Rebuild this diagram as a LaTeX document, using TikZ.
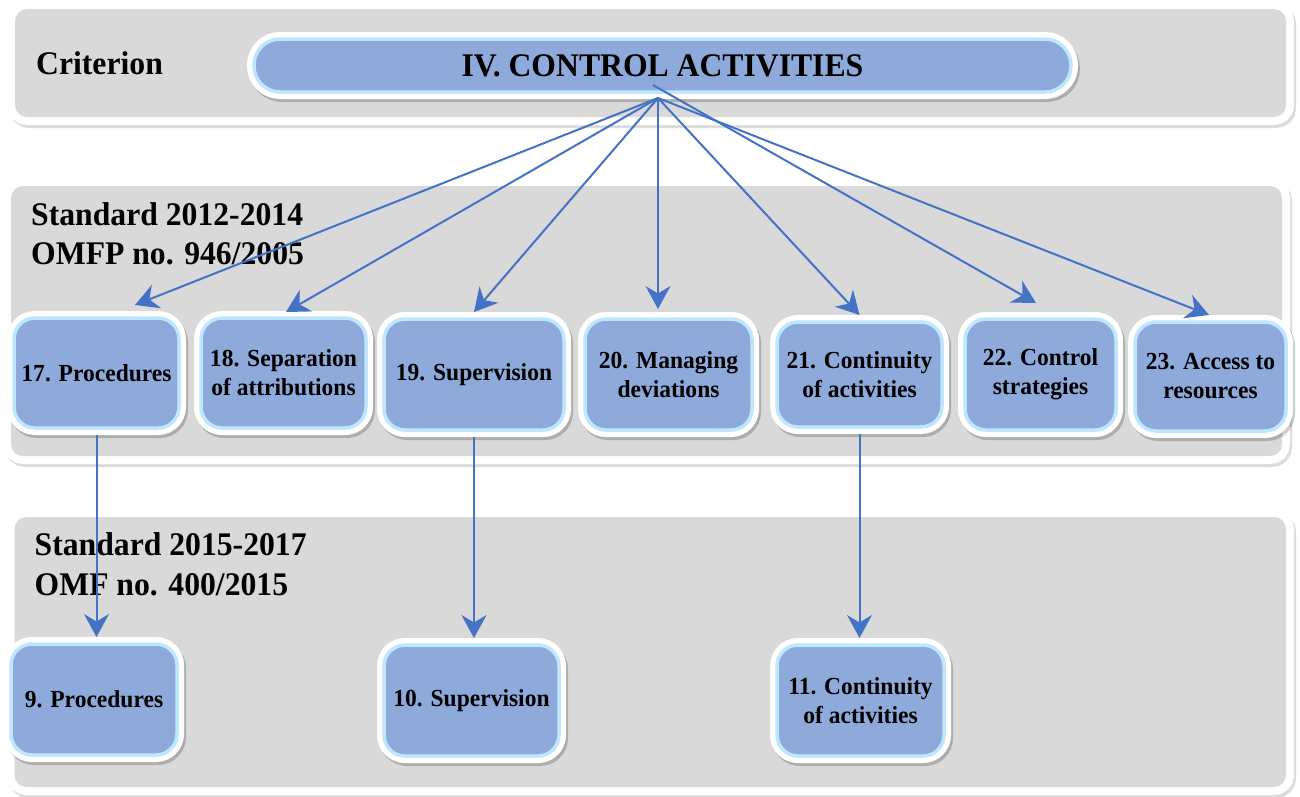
\documentclass[tikz,border=0pt]{standalone}
\usepackage{fontspec}
\setmainfont{Liberation Serif}[FakeStretch=0.96]
\usetikzlibrary{arrows.meta,shadows,calc}
\definecolor{panelgray}{HTML}{D9D9D9}
\definecolor{boxblue}{HTML}{8EAADB}
\definecolor{glow}{HTML}{BFE6FF}
\definecolor{arrowblue}{HTML}{4472C4}
\tikzset{
  panel/.style={fill=panelgray, rounded corners=12pt,
    drop shadow={fill=none, draw=black, line width=16pt, opacity=0.14, shadow xshift=2pt, shadow yshift=-3pt},
    preaction={draw=white, line width=16pt}},
  box/.style={rounded corners=21pt, fill=boxblue, draw=glow, line width=3.5pt,
    outer sep=7pt, inner sep=0pt, align=center,
    font=\fontsize{24.5}{29}\selectfont\bfseries,
    drop shadow={fill=none, draw=black, line width=14pt, opacity=0.2, shadow xshift=2pt, shadow yshift=-3pt},
    preaction={draw=white, line width=14pt}},
  topbox/.style={box, rounded corners=26pt, font=\fontsize{33}{38}\selectfont\bfseries},
  lbl/.style={anchor=base west, inner sep=0pt, font=\fontsize{33}{38}\selectfont\bfseries},
  arr/.style={draw=arrowblue, line width=2pt, -{Stealth[length=23pt,width=25pt,inset=7.5pt]}}
}
\begin{document}
\begin{tikzpicture}[x=1pt,y=-1pt]
\useasboundingbox (0,0) rectangle (1300,796);
% panels
\path[panel] (15,9) rectangle (1286,117);
\path[panel] (11,186) rectangle (1282,456);
\path[panel] (14.5,517) rectangle (1286,787);
% panel labels
\node[lbl] (crit) at (36,74) {Criterion};
\node[lbl] (stdA1) at (31,225) {Standard 2012-2014};
\node[lbl] (stdA2) at (31,264) {OMFP no. 946/2005};
\node[lbl] (stdB1) at (34.5,555) {Standard 2015-2017};
\node[lbl] (stdB2) at (34.5,595) {OMF no. 400/2015};
% top node
\node[topbox, minimum width=817pt, minimum height=53pt] (top) at (662.5,65.5) {IV. CONTROL ACTIVITIES};
% row 2
\node[box, minimum width=165pt, minimum height=110pt] (n17) at (96.5,373) {17. Procedures};
\node[box, minimum width=165pt, minimum height=110pt] (n18) at (283.5,373) {18. Separation\\of attributions};
\node[box, minimum width=180pt, minimum height=111pt] (n19) at (474,374.5) {19. Supervision};
\node[box, minimum width=167pt, minimum height=111pt] (n20) at (668.5,374.5) {20. Managing\\deviations};
\node[box, minimum width=165pt, minimum height=105pt] (n21) at (859.5,374.5) {21. Continuity\\of activities};
\node[box, minimum width=151pt, minimum height=111pt] (n22) at (1040.5,374.5) {22. Control\\strategies};
\node[box, minimum width=151pt, minimum height=109pt] (n23) at (1210.5,376.5) {23. Access to\\resources};
% row 3
\node[box, minimum width=166pt, minimum height=111pt] (n9) at (94,699.5) {9. Procedures};
\node[box, minimum width=175pt, minimum height=111pt] (n10) at (471.5,700.5) {10. Supervision};
\node[box, minimum width=167pt, minimum height=111pt] (n11) at (860.5,700.5) {11. Continuity\\of activities};
% sources
\coordinate (src) at ($(top.south)+(-4.5,-1)$);
\coordinate (srcB) at ($(top.south)+(-9.5,-14)$);
% arrows
\draw[arr] (src) -- ($(n17.north)+(38.5,-6)$);
\draw[arr] (src) -- ($(n18.north)+(2.5,1)$);
\draw[arr] (src) -- (n19.north);
\draw[arr] (src) -- ($(n20.north)+(-10.5,-3)$);
\draw[arr] (src) -- (n21.north);
\draw[arr] (srcB) -- ($(n22.north)+(-4.5,-9)$);
\draw[arr] (src) -- ($(n23.north)+(-1.5,0)$);
\draw[arr] (n17.south) -- (n17.south |- n9.north);
\draw[arr] (n19.south) -- (n19.south |- n10.north);
\draw[arr] (n21.south) -- (n21.south |- n11.north);
\end{tikzpicture}
\end{document}
